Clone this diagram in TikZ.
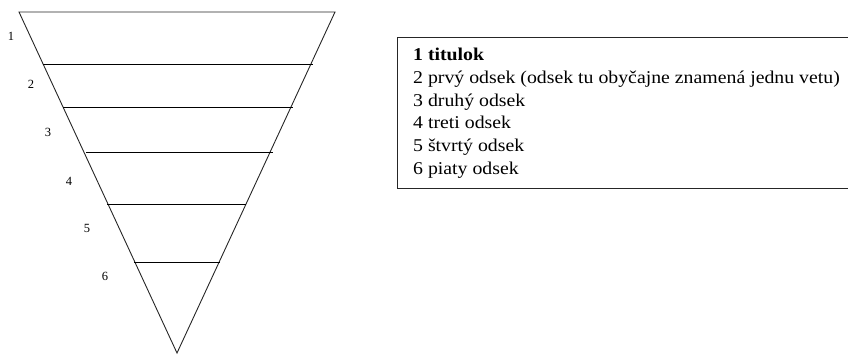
\documentclass[tikz,border=0pt]{standalone}
\usepackage{fontspec}
\setmainfont{Liberation Serif}
\newfontfamily\itemfont[FakeStretch=1.1]{Liberation Serif}
\begin{document}
\begin{tikzpicture}[x=1pt,y=-1pt,
  edge/.style={draw=black!85,line width=0.9pt},
  rung/.style={draw=black,line width=0.9pt},
  num/.style={font=\fontsize{12.5}{14}\selectfont,inner sep=0pt},
  item/.style={font=\itemfont\fontsize{18}{21}\selectfont,anchor=base west,inner sep=0pt}]
\useasboundingbox (0,0) rectangle (848,354);
\coordinate (tl) at (19,12);
\coordinate (tr) at (335,12);
\coordinate (ap) at (177,353);
\draw[edge] (tl) -- (tr) -- (ap) -- cycle;
\foreach \y/\a/\b in {64/43.1/312.8, 107/63.0/292.5, 152/86.0/272.5, 204/107.2/246.2, 262/134.0/220.3}{
  \draw[rung] (\a,\y) -- (\b,\y);
}
\node[num] (n1) at (11,36) {1};
\node[num] (n2) at (31,84) {2};
\node[num] (n3) at (48,132) {3};
\node[num] (n4) at (69,181) {4};
\node[num] (n5) at (87,228) {5};
\node[num] (n6) at (105,276) {6};
\draw[draw=black!85,line width=0.9pt] (397,37) rectangle (852,188);
\node[item] (t1) at (413,60.7) {\textbf{1 titulok}};
\node[item] (t2) at (413,83.4) {2 prvý odsek (odsek tu obyčajne znamená jednu vetu)};
\node[item] (t3) at (413,106.1) {3 druhý odsek};
\node[item] (t4) at (413,128.8) {4 treti odsek};
\node[item] (t5) at (413,151.5) {5 štvrtý odsek};
\node[item] (t6) at (413,174.2) {6 piaty odsek};
\end{tikzpicture}
\end{document}
